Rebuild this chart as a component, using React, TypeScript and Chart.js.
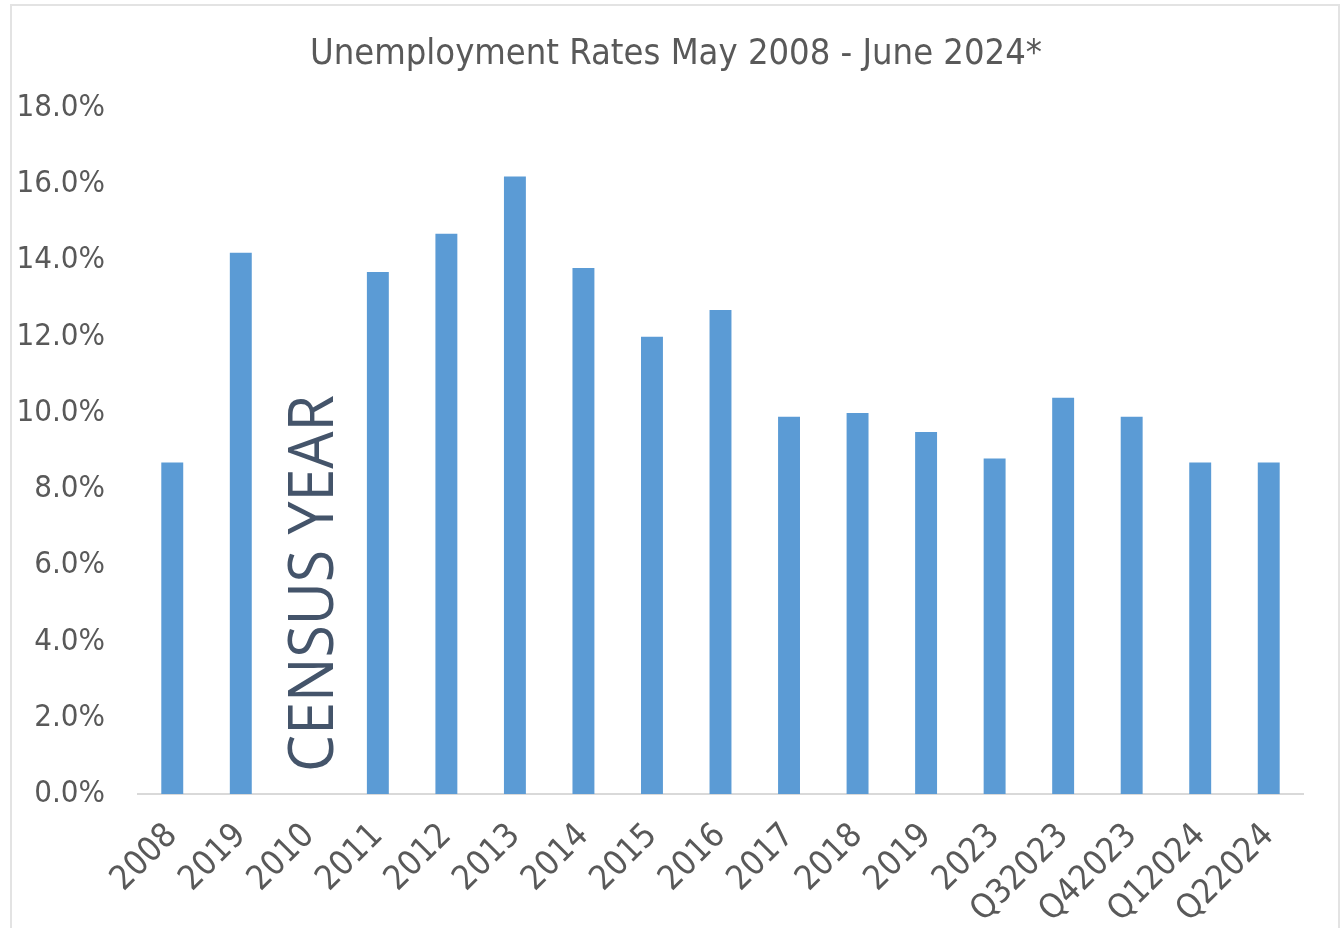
import { useEffect, useRef } from "react";
import { Chart, registerables } from "chart.js";

Chart.register(...registerables);

const categories = [
  "2008", "2019", "2010", "2011", "2012", "2013", "2014", "2015", "2016",
  "2017", "2018", "2019", "2023", "Q32023", "Q42023", "Q12024", "Q22024",
];
const rates = [8.7, 14.2, null, 13.7, 14.7, 16.2, 13.8, 12.0, 12.7, 9.9, 10.0, 9.5, 8.8, 10.4, 9.9, 8.7, 8.7];
const censusIndex = 2;
const censusLabel = "CENSUS YEAR";

const narrow = '"Liberation Sans Narrow", "Arial Narrow", "DejaVu Sans Condensed", sans-serif';

const censusPlugin = {
  id: "census",
  afterDatasetsDraw(chart: Chart) {
    const { ctx, scales } = chart;
    const x = scales.x.getPixelForValue(censusIndex);
    const bottom = scales.y.getPixelForValue(0) - 22;
    ctx.save();
    ctx.font = '62px "Open Sans", "Noto Sans", sans-serif';
    const w = ctx.measureText(censusLabel).width;
    ctx.translate(x + 24, bottom);
    ctx.rotate(-Math.PI / 2);
    ctx.scale(377 / w, 1);
    ctx.fillStyle = "#44546A";
    ctx.textAlign = "left";
    ctx.textBaseline = "alphabetic";
    ctx.fillText(censusLabel, 0, 0);
    ctx.restore();
  },
};

export default function App() {
  const canvasRef = useRef<HTMLCanvasElement>(null);

  useEffect(() => {
    if (!canvasRef.current) return;
    const chart = new Chart(canvasRef.current, {
      type: "bar",
      data: {
        labels: categories,
        datasets: [
          {
            label: "Unemployment rate",
            data: rates,
            backgroundColor: "#5B9BD5",
            barPercentage: 0.32,
            categoryPercentage: 1,
          },
        ],
      },
      options: {
        responsive: false,
        animation: false,
        layout: { padding: 0 },
        scales: {
          x: {
            grid: { display: false },
            border: { display: true, color: "#d9d9d9", width: 2 },
            ticks: {
              color: "#595959",
              font: { family: narrow, size: 34 },
              minRotation: 45,
              maxRotation: 45,
              padding: 14,
              autoSkip: false,
            },
            afterFit: (s: any) => {
              s.height = 134;
            },
          },
          y: {
            min: 0,
            max: 18,
            grid: { display: false, drawTicks: false },
            border: { display: false },
            ticks: {
              stepSize: 2,
              color: "#595959",
              font: { family: narrow, size: 31 },
              padding: 33,
              callback: (v: any) => `${Number(v).toFixed(1)}%`,
            },
            afterFit: (s: any) => {
              s.width = 138;
            },
          },
          // empty right-hand spacer so the title centres on the whole frame
          y2: {
            position: "right",
            grid: { display: false, drawTicks: false },
            border: { display: false },
            ticks: { display: false },
            afterFit: (s: any) => {
              s.width = 49;
            },
          },
        },
        plugins: {
          legend: { display: false },
          tooltip: { enabled: false },
          title: {
            display: true,
            text: "Unemployment Rates May 2008 - June 2024*",
            color: "#595959",
            font: { family: narrow, size: 36, weight: "normal", lineHeight: 1.2 },
            padding: { top: 33, bottom: 31.8 },
          },
        },
      },
      plugins: [censusPlugin],
    });
    return () => chart.destroy();
  }, []);

  return (
    <div style={{ position: "absolute", left: 0, top: 0, width: 1344, height: 928, overflow: "hidden", background: "#fff" }}>
      <div
        style={{
          position: "absolute",
          left: 10,
          top: 4,
          width: 1326,
          height: 1000,
          border: "2px solid #e3e3e3",
        }}
      />
      <canvas ref={canvasRef} width={1352} height={928} style={{ position: "absolute", left: 0, top: 0 }} />
    </div>
  );
}
